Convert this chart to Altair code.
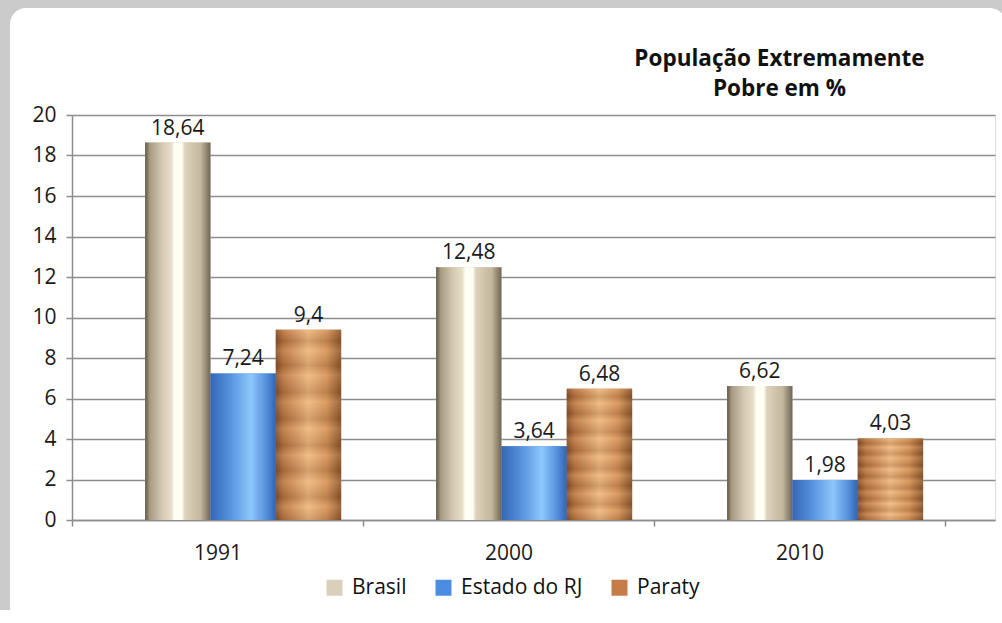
import altair as alt
import pandas as pd

years = ["1991", "2000", "2010"]
series = ["Brasil", "Estado do RJ", "Paraty"]
brasil = [18.64, 12.48, 6.62]
estado_rj = [7.24, 3.64, 1.98]
paraty = [9.4, 6.48, 4.03]
y_ticks = list(range(0, 21, 2))
title_lines = ["População Extremamente", "Pobre em %"]

rows = []
for s, vals in zip(series, [brasil, estado_rj, paraty]):
    for yr, v in zip(years, vals):
        rows.append({"Ano": yr, "Serie": s, "Valor": v,
                     "Rotulo": f"{v:g}".replace(".", ",")})
df = pd.DataFrame(rows)

FONT = "Open Sans"
GRID = "#8d8d8d"
legend_colors = ["#d9cfba", "#4b8de0", "#c57c48"]

W, H = 923, 405

x_enc = alt.X("Ano:N", sort=years,
              scale=alt.Scale(domain=years, paddingInner=0, paddingOuter=0.086, align=0),
              axis=alt.Axis(title=None, labelAngle=0, labelFontSize=21, labelColor="#1a1a1a",
                            labelFont=FONT, labelPadding=16, tickBand="extent", tickSize=6,
                            tickColor=GRID, tickWidth=1.5, domainColor=GRID, domainWidth=1.5,
                            grid=False))
xo_enc = alt.XOffset("Serie:N",
                     scale=alt.Scale(domain=series, paddingInner=0, paddingOuter=0.727, align=0.77))
y_enc = alt.Y("Valor:Q", scale=alt.Scale(domain=[0, 20], nice=False),
              axis=alt.Axis(title=None, values=y_ticks, labelFontSize=21, labelColor="#1a1a1a",
                            labelFont=FONT, labelPadding=10, tickSize=6, tickColor=GRID,
                            tickWidth=1.5, domainColor=GRID, domainWidth=1.5,
                            grid=True, gridColor=GRID, gridWidth=1.6))

one = pd.DataFrame({"k": [0]})
GRAY = "#cbcbcb"


def frame_rect(x, x2, y, y2, color, radius=0):
    return alt.Chart(one).mark_rect(color=color, cornerRadius=radius).encode(
        x=alt.value(x), x2=alt.value(x2), y=alt.value(y), y2=alt.value(y2))


frame = [
    frame_rect(-72, 930, -115, -107, GRAY),
    frame_rect(-72, -62, -115, 495, GRAY),
    frame_rect(-72, -40, -115, -85, GRAY),
    frame_rect(-62, -20, -107, -60, "white", 16),
    frame_rect(900, 930, -115, -85, GRAY),
    frame_rect(880, 934, -107, -60, "white", 16),
]

base = alt.Chart(df).mark_bar().encode(
    x=x_enc, xOffset=xo_enc, y=y_enc,
    color=alt.Color("Serie:N", scale=alt.Scale(domain=series, range=legend_colors),
                    legend=alt.Legend(orient="none", legendX=252, legendY=462,
                                      direction="horizontal", title=None,
                                      symbolType="square", symbolSize=256,
                                      symbolStrokeWidth=0, labelFontSize=21,
                                      labelFont=FONT, labelColor="#111111",
                                      labelOffset=7, columnPadding=26, padding=0)))

grad_brasil = alt.LinearGradient(gradient="linear", x1=0, x2=1, y1=0, y2=0, stops=[
    alt.GradientStop(offset=0, color="#5f5647"),
    alt.GradientStop(offset=0.07, color="#a69a82"),
    alt.GradientStop(offset=0.25, color="#d3c8af"),
    alt.GradientStop(offset=0.40, color="#e6dec9"),
    alt.GradientStop(offset=0.45, color="#fffff6"),
    alt.GradientStop(offset=0.56, color="#fffff2"),
    alt.GradientStop(offset=0.61, color="#ddd3bc"),
    alt.GradientStop(offset=0.85, color="#c3b79c"),
    alt.GradientStop(offset=1, color="#6f6554"),
])
grad_rj = alt.LinearGradient(gradient="linear", x1=0, x2=1, y1=0, y2=0, stops=[
    alt.GradientStop(offset=0, color="#3566b4"),
    alt.GradientStop(offset=0.3, color="#5692de"),
    alt.GradientStop(offset=0.62, color="#8fc6fb"),
    alt.GradientStop(offset=0.85, color="#5590dc"),
    alt.GradientStop(offset=1, color="#3363b0"),
])
grad_paraty = alt.LinearGradient(gradient="linear", x1=0, x2=1, y1=0, y2=0, stops=[
    alt.GradientStop(offset=0, color="#7d4b28"),
    alt.GradientStop(offset=0.12, color="#b87442"),
    alt.GradientStop(offset=0.5, color="#f0bd88"),
    alt.GradientStop(offset=0.78, color="#d4935a"),
    alt.GradientStop(offset=1, color="#865229"),
])

stripe_stops = []
stripe_pos = [0.0, 0.06, 0.11, 0.19, 0.24, 0.33, 0.38, 0.47, 0.52, 0.61, 0.66, 0.74, 0.8, 0.88, 0.93, 1.0]
for i, p in enumerate(stripe_pos):
    stripe_stops.append(alt.GradientStop(offset=p, color="#6b3a17" if i % 2 else "#f3c08a"))
grad_stripes = alt.LinearGradient(gradient="linear", x1=0, x2=0, y1=0, y2=1, stops=stripe_stops)


def overlay(name, grad, opacity=1.0):
    return alt.Chart(df).transform_filter(alt.datum.Serie == name).mark_bar(opacity=opacity).encode(
        x=x_enc, xOffset=xo_enc, y=y_enc, color=alt.value(grad))


labels = alt.Chart(df).mark_text(baseline="bottom", dy=-4, fontSize=21, font=FONT,
                                 color="#1a1a1a").encode(
    x=x_enc, xOffset=xo_enc, y=y_enc, text="Rotulo:N")

chart = alt.layer(
    *frame,
    base,
    overlay("Brasil", grad_brasil),
    overlay("Estado do RJ", grad_rj),
    overlay("Paraty", grad_paraty),
    overlay("Paraty", grad_stripes, 0.22),
    labels,
).properties(
    width=W, height=H,
    autosize=alt.AutoSizeParams(type="none"),
    padding={"left": 72, "top": 115, "right": 7, "bottom": 103},
    title=alt.Title(title_lines, anchor="middle", dx=246, offset=-123, fontSize=22.5,
                    fontWeight="bold", font=FONT, color="#111111", lineHeight=30,
                    baseline="bottom"),
).configure_view(stroke=None).configure(background="white")

chart.save("out.html", embed_options={"renderer": "svg", "actions": False})
